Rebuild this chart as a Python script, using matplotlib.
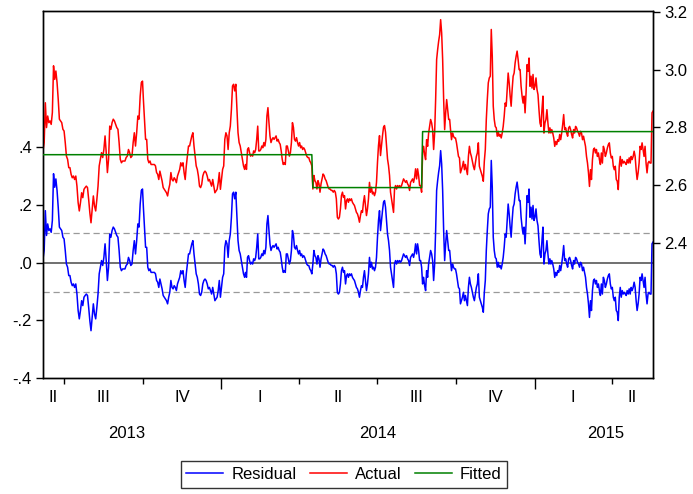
import numpy as np
import pandas as pd
import matplotlib
matplotlib.use("Agg")
import matplotlib.pyplot as plt
from matplotlib.lines import Line2D
from matplotlib.ticker import FixedLocator, FuncFormatter

plt.rcParams["font.family"] = ["Liberation Sans", "DejaVu Sans"]
plt.rcParams["font.size"] = 12

# Residual series, daily observations, grouped in consecutive blocks
resid_a = [0.013, 0.042, 0.180, 0.094, 0.134, 0.111, 0.117, 0.105, 0.146, 0.308,
           0.261, 0.290, 0.250, 0.192, 0.123, 0.117, 0.111, 0.088, 0.082, 0.042,
           -0.005, -0.016, -0.045, -0.045, -0.068, -0.080, -0.074, -0.086, -0.074, -0.109,
           -0.166, -0.195, -0.166, -0.132, -0.149, -0.120, -0.114, -0.109, -0.114, -0.155,
           -0.201, -0.236, -0.190, -0.143, -0.178, -0.195, -0.155, -0.109, -0.039, -0.016,
           0.007, -0.010, 0.018, 0.065, 0.007, -0.062, -0.016, 0.099, 0.088, 0.111,
           0.123, 0.117, 0.105, 0.094, 0.088, 0.042, -0.016, -0.028, -0.022, -0.022,
           -0.022, -0.010, -0.005, 0.018, 0.007, -0.010, -0.005, 0.042, 0.076, 0.030,
           0.076, 0.134, 0.123, 0.203, 0.250, 0.255]
resid_b = [0.192, 0.123, 0.053, 0.053, -0.016, -0.028, -0.022, -0.034, -0.034, -0.034,
           -0.034, -0.039, -0.062, -0.068, -0.086, -0.057, -0.074, -0.091, -0.114, -0.120,
           -0.126, -0.132, -0.143, -0.120, -0.103, -0.062, -0.086, -0.091, -0.080, -0.086,
           -0.097, -0.074, -0.062, -0.051, -0.028, -0.039, -0.028, -0.062, -0.086, -0.039,
           -0.005, 0.030, 0.030, 0.047, 0.065, 0.076, 0.030, -0.005, -0.039, -0.051,
           -0.074, -0.109, -0.114, -0.103, -0.074, -0.062, -0.057, -0.062, -0.074, -0.091,
           -0.086, -0.097, -0.109, -0.086, -0.109, -0.132, -0.126, -0.120, -0.097, -0.062,
           -0.120, -0.086, -0.051, -0.039, 0.053, 0.076, 0.065, 0.018, 0.076, 0.099,
           0.157, 0.238, 0.244, 0.221, 0.244, 0.157, 0.076, 0.042, 0.030, 0.007,
           -0.016, -0.039, -0.051]
resid_c = [-0.034, -0.051, 0.018, 0.024, 0.007, -0.005, 0.001, -0.005, 0.013, 0.007,
           0.018, 0.053, 0.099, 0.013, 0.013, 0.018, 0.030, 0.024, 0.042, 0.030,
           0.053, 0.134, 0.163, 0.111, 0.065, 0.042, 0.053, 0.059, 0.053, 0.059,
           0.065, 0.047, 0.053, 0.042, 0.036, 0.013, -0.016, -0.034, -0.028, -0.034,
           0.030, 0.030, 0.013, -0.005, 0.007, 0.042, 0.111, 0.094, 0.053, 0.047,
           0.059, 0.042, 0.030, 0.042, 0.024, 0.030, 0.018, 0.024, 0.018, 0.007,
           -0.005, -0.010, -0.010, -0.022, -0.028, -0.039, -0.005, 0.042, 0.024, 0.018,
           -0.005, 0.024, 0.013, -0.016, 0.013, 0.030, 0.047, 0.042, 0.030, 0.024,
           0.013, 0.001, -0.005, -0.005, -0.010, -0.010, -0.016, -0.010, -0.016, -0.039,
           -0.103, -0.109, -0.103, -0.074, -0.028, -0.016, -0.034, -0.028, -0.074, -0.045,
           -0.039]
resid_d = [-0.051, -0.039, -0.045, -0.039, -0.051, -0.057, -0.062, -0.074, -0.086, -0.091,
           -0.103, -0.120, -0.097, -0.080, -0.086, -0.051, -0.028, -0.062, -0.097, -0.074,
           -0.039, 0.018, -0.016, 0.001, -0.022, -0.016, -0.028, -0.016, 0.018, 0.088,
           0.146, 0.180, 0.111, 0.146, 0.180, 0.209, 0.215, 0.192, 0.146, 0.099,
           0.076, 0.042, -0.016, -0.039, -0.062, -0.086, -0.005, 0.007, -0.005, 0.007,
           0.001, 0.007, 0.001, 0.007, 0.018, 0.030, 0.024, 0.018, 0.024, 0.013,
           0.007, -0.010, 0.018, 0.024, 0.030, 0.018, 0.036, 0.065, 0.030, 0.065,
           0.042, 0.007, 0.007, -0.016, -0.074, -0.051, -0.080, -0.097, -0.028, -0.051,
           -0.005, 0.018, 0.042, 0.030, 0.007, -0.062, -0.005, 0.111, 0.250, 0.284,
           0.313, 0.336, 0.388, 0.342, 0.250, 0.111, 0.007, 0.065, 0.111, 0.076,
           0.042, 0.042]
resid_e = [0.007, -0.028, -0.005, -0.016, -0.022, -0.022, -0.039, -0.062, -0.086, -0.091,
           -0.143, -0.132, -0.120, -0.103, -0.132, -0.114, -0.132, -0.149, -0.086, -0.051,
           -0.074, -0.086, -0.103, -0.120, -0.132, -0.109, -0.086, -0.074, -0.039, -0.120,
           -0.132, -0.143, -0.155, -0.172, -0.103, -0.062, 0.042, 0.111, 0.169, 0.186,
           0.192, 0.354, 0.261, 0.088, 0.042, 0.018, 0.013, -0.016, 0.001, -0.016,
           -0.010, -0.022, -0.005, 0.018, 0.053, 0.099, 0.088, 0.146, 0.203, 0.169,
           0.123, 0.088, 0.146, 0.192, 0.203, 0.238, 0.261, 0.279, 0.250, 0.215,
           0.215, 0.157, 0.123, 0.099, 0.123, 0.065, 0.134, 0.232, 0.209, 0.255,
           0.157, 0.192, 0.151, 0.198, 0.146, 0.157, 0.186, 0.146, 0.128, 0.076,
           0.030, 0.018, 0.076, 0.123, -0.005, 0.030, 0.042, 0.076, 0.030, -0.005,
           0.013, -0.005]
resid_f = [0.007, -0.005, -0.022, -0.051, -0.034, -0.045, -0.028, -0.034, -0.010, -0.028,
           -0.005, 0.024, 0.059, 0.007, 0.013, -0.005, -0.016, 0.013, 0.018, 0.007,
           -0.010, -0.022, 0.007, -0.005, 0.018, 0.013, 0.001, -0.005, -0.016, 0.001,
           -0.005, -0.028, -0.016, -0.034, -0.051, -0.086, -0.109, -0.143, -0.190, -0.132,
           -0.166, -0.097, -0.062, -0.057, -0.074, -0.062, -0.086, -0.074, -0.097, -0.114,
           -0.074, -0.109, -0.051, -0.062, -0.086, -0.074, -0.057, -0.045, -0.039, -0.074,
           -0.091, -0.086, -0.120, -0.132, -0.120, -0.166, -0.172, -0.201, -0.120, -0.086,
           -0.120, -0.097, -0.109, -0.103, -0.109, -0.114, -0.097, -0.109, -0.091, -0.109,
           -0.086, -0.097, -0.086, -0.068, -0.086, -0.132, -0.166, -0.143, -0.109, -0.051,
           -0.062, -0.039, -0.062, -0.086, -0.051, -0.109, -0.143, -0.109, -0.103, -0.109,
           -0.109, 0.065, 0.071]

# first and last date covered by each block
block_spans = [("2013-06-07", "2013-10-01"), ("2013-10-02", "2014-01-28"),
               ("2014-01-29", "2014-05-28"), ("2014-05-29", "2014-09-24"),
               ("2014-09-25", "2015-01-20"), ("2015-01-21", "2015-05-19")]
blocks = [resid_a, resid_b, resid_c, resid_d, resid_e, resid_f]

# fitted values: constant within each regime
fitted_levels = [2.705, 2.591, 2.785]
fitted_breaks = ["2014-04-17", "2014-08-23"]
resid_se = 0.101

dates = pd.DatetimeIndex(np.concatenate(
    [pd.date_range(s, e, periods=len(b)).values for b, (s, e) in zip(blocks, block_spans)]))
resid = np.concatenate([np.asarray(b, float) for b in blocks])
regime = np.searchsorted(pd.to_datetime(fitted_breaks).values, dates.values, side="right")
fitted = np.asarray(fitted_levels)[regime]
actual = fitted + resid

quarter_starts = pd.date_range("2013-04-01", "2015-04-01", freq="QS")
roman = {1: "I", 2: "II", 3: "III", 4: "IV"}
year_labels = ["2013", "2014", "2015"]
year_label_dates = ["2013-09-12", "2014-07-02", "2015-03-25"]

W, H = 693, 494
fig = plt.figure(figsize=(W / 100, H / 100), dpi=100)
ax = fig.add_axes([43 / W, 1 - 378 / H, 610 / W, 367 / H])
ax2 = ax.twinx()

# left scale: residual with zero line and +/- one standard error bands
ax.axhline(0, color="#707070", lw=1.4, zorder=1)
for s in (resid_se, -resid_se):
    ax.axhline(s, color="#9a9a9a", lw=0.9, ls=(0, (5, 3)), zorder=1)
ax.plot(dates, resid, color="#0000ff", lw=1.1, zorder=2)

# right scale: actual and fitted
ax2.plot(dates, actual, color="#ff0000", lw=1.1, zorder=2)
ax2.plot(dates, fitted, color="#008000", lw=1.1, zorder=3)

xmin, xmax = dates[0], dates[-1]
ax.set_xlim(xmin, xmax)
ax.set_ylim(-0.4, 0.872)
ax2.set_ylim(1.931, 3.203)

ax.yaxis.set_major_locator(FixedLocator([-0.4, -0.2, 0.0, 0.2, 0.4]))
ax.yaxis.set_major_formatter(FuncFormatter(lambda v, p: f"{v:.1f}".replace("0.", ".")))
ax2.yaxis.set_major_locator(FixedLocator([2.4, 2.6, 2.8, 3.0, 3.2]))
ax2.yaxis.set_major_formatter(FuncFormatter(lambda v, p: f"{v:.1f}"))

ax.tick_params(axis="y", direction="out", length=5, width=1, pad=3, labelsize=12)
ax2.tick_params(axis="y", direction="out", length=5, width=1, pad=3, labelsize=12)

# x axis: long ticks at years, short ticks at quarters
qs_in = [q for q in quarter_starts if xmin < q < xmax]
year_ticks = [q for q in qs_in if q.month == 1]
quarter_ticks = [q for q in qs_in if q.month != 1]
import matplotlib.dates as mdates
ax.xaxis.set_major_locator(FixedLocator(mdates.date2num(year_ticks)))
ax.xaxis.set_minor_locator(FixedLocator(mdates.date2num(quarter_ticks)))
ax.tick_params(axis="x", which="major", direction="out", length=8, width=1, labelbottom=False)
ax.tick_params(axis="x", which="minor", direction="out", length=4.5, width=1, labelbottom=False)

for sp in list(ax.spines.values()) + list(ax2.spines.values()):
    sp.set_linewidth(1.0)
    sp.set_color("black")

trans = ax.get_xaxis_transform()
for q in quarter_starts:
    qend = q + pd.offsets.QuarterBegin(startingMonth=1)
    lo, hi = max(q, xmin), min(qend, xmax)
    if hi <= lo:
        continue
    mid = lo + (hi - lo) / 2
    ax.text(mid, -0.052, roman[q.quarter], transform=trans, ha="center", va="center",
            fontsize=12)
for lab, d in zip(year_labels, year_label_dates):
    ax.text(pd.Timestamp(d), -0.150, lab, transform=trans, ha="center", va="center",
            fontsize=12)

handles = [Line2D([], [], color="#0000ff", lw=1.1),
           Line2D([], [], color="#ff0000", lw=1.1),
           Line2D([], [], color="#008000", lw=1.1)]
leg = fig.legend(handles, ["Residual", "Actual", "Fitted"], loc="center",
                 bbox_to_anchor=(344 / W, 1 - 474.5 / H), ncol=3, frameon=True,
                 fancybox=False, edgecolor="black", handlelength=2.2,
                 handletextpad=0.5, columnspacing=0.8, borderpad=0.35, fontsize=12)
leg.get_frame().set_linewidth(1.0)

fig.savefig("out.png", dpi=100)
